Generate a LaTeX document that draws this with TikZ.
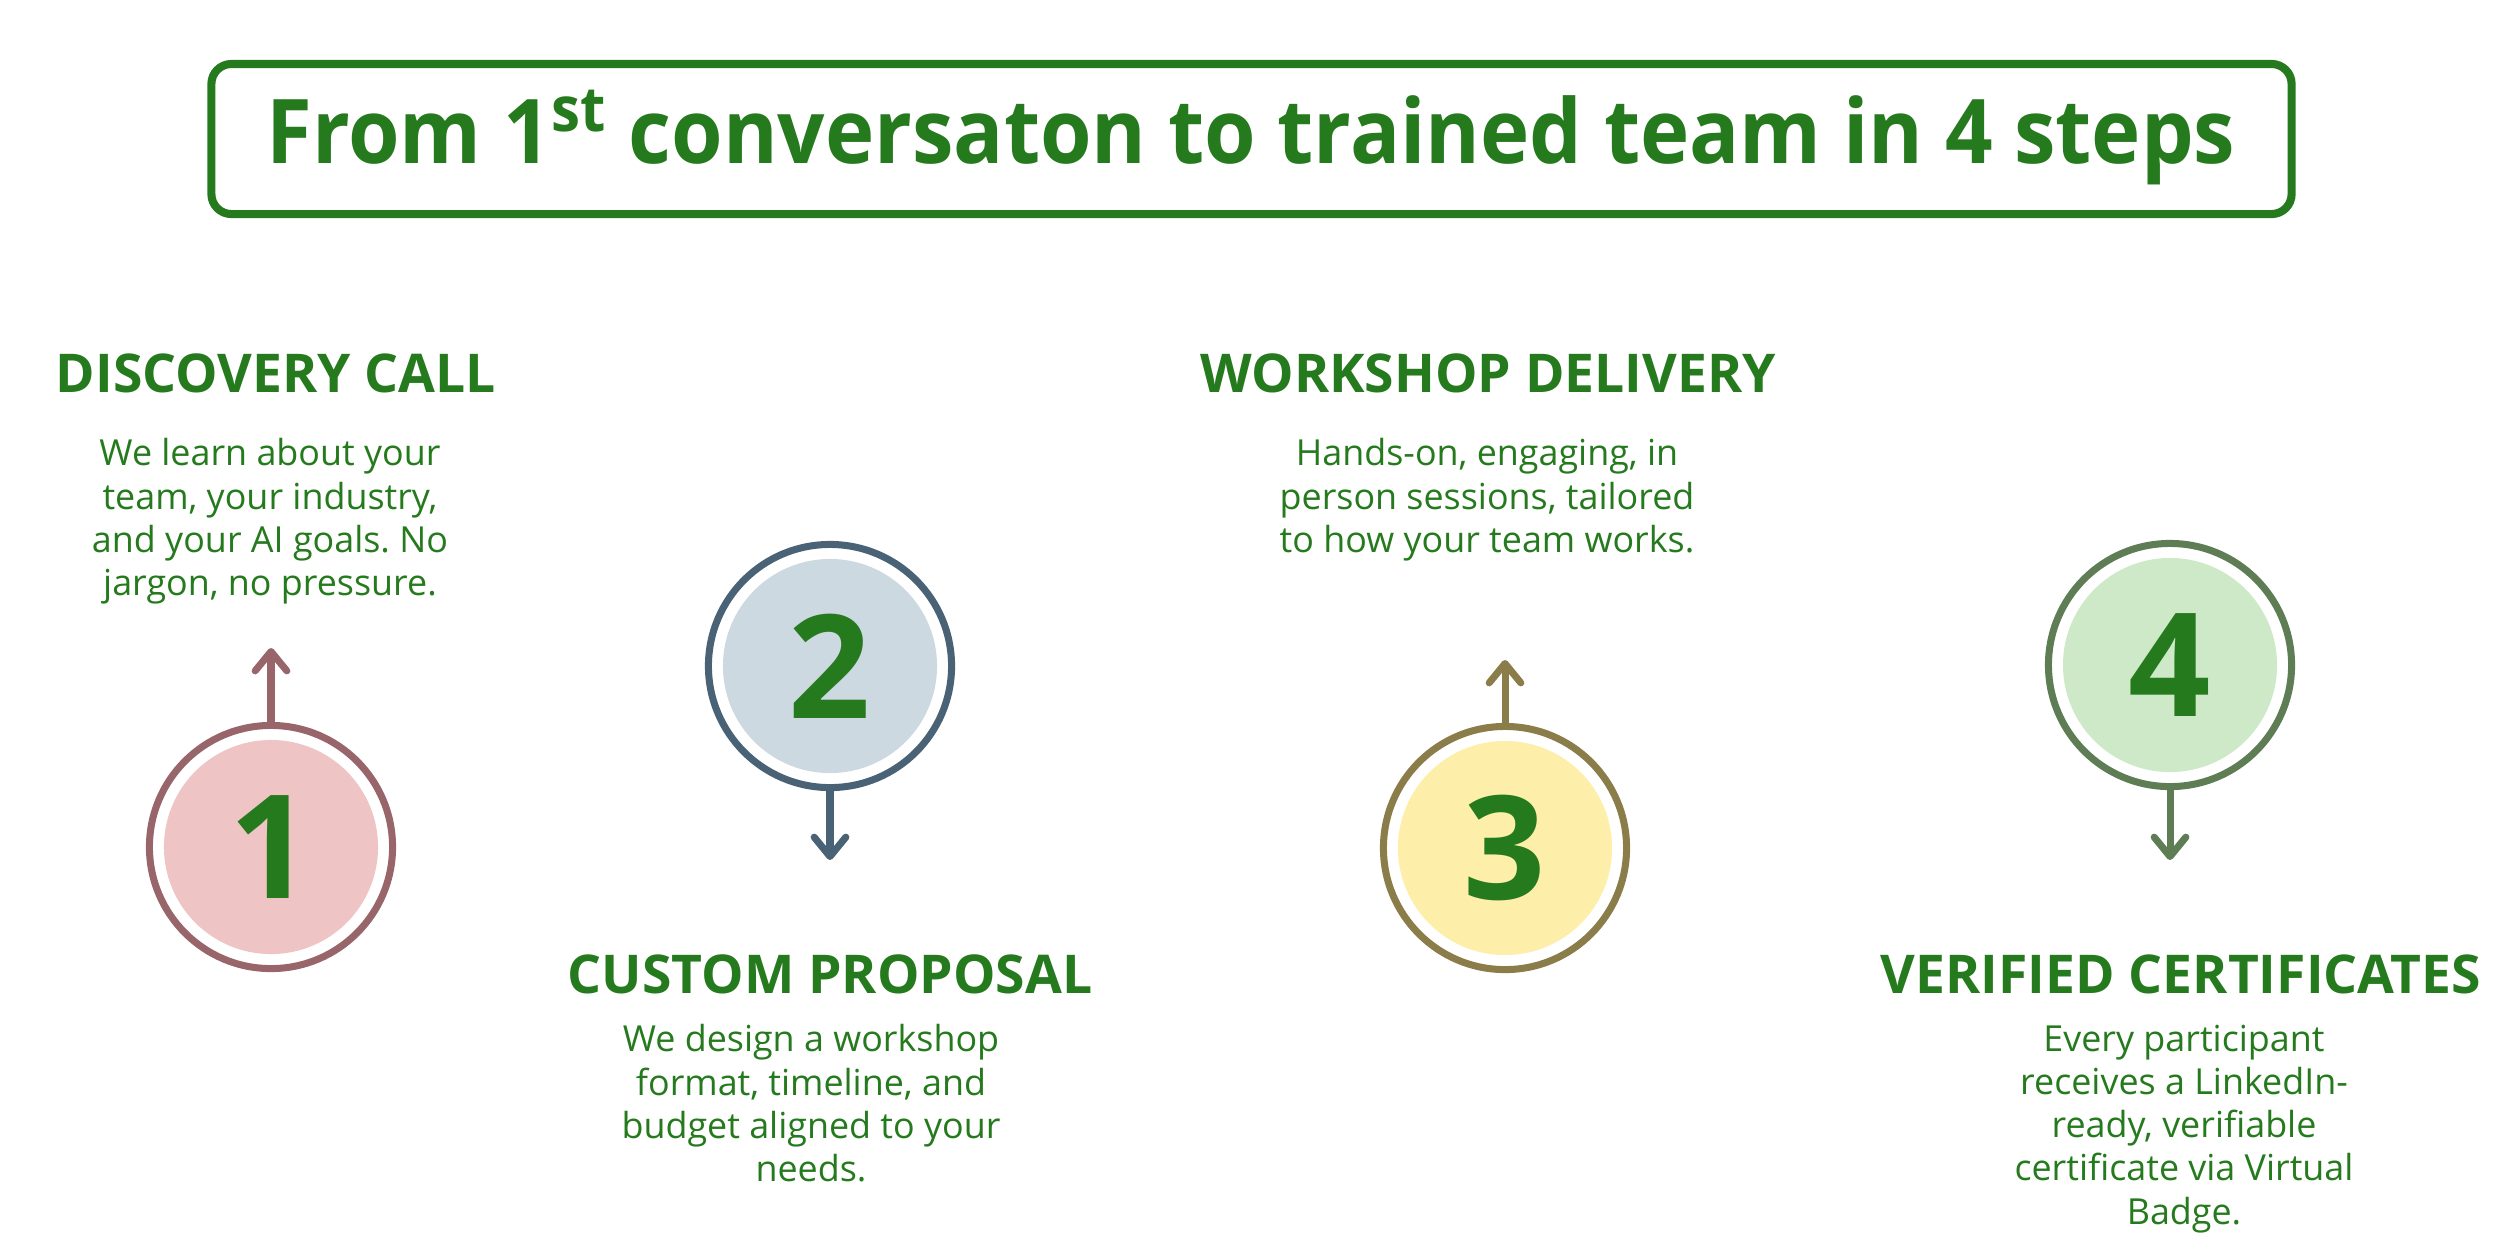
\documentclass[tikz,border=0pt]{standalone}
\usepackage{fontspec}
\setmainfont{Open Sans}
\usetikzlibrary{arrows.meta}
\frenchspacing
\definecolor{tgreen}{HTML}{267A1E}
\definecolor{ringA}{HTML}{98656A}
\definecolor{fillA}{HTML}{EFC4C5}
\definecolor{ringB}{HTML}{4A6275}
\definecolor{fillB}{HTML}{CCD9E1}
\definecolor{ringC}{HTML}{8A7D4A}
\definecolor{fillC}{HTML}{FDEEAA}
\definecolor{ringD}{HTML}{5E7D55}
\definecolor{fillD}{HTML}{CDE9C8}
\tikzset{
  titlebox/.style={draw=tgreen, line width=2.3pt, rounded corners=0.2cm, minimum width=20.79cm, minimum height=1.50cm, inner sep=0pt},
  headtext/.style={text=tgreen, font=\fontsize{15.2}{18}\selectfont\bfseries, inner sep=0pt, anchor=base},
  bodytext/.style={text=tgreen, font=\fontsize{10.2}{12.3}\selectfont, align=center, inner sep=0pt, anchor=north},
  ring/.style={circle, draw=#1, line width=2pt, minimum size=2.43cm, inner sep=0pt},
  disc/.style={circle, fill=#1, minimum size=2.14cm, inner sep=0pt, text=tgreen, font=\fontsize{41}{48}\selectfont\bfseries},
  pointer/.style={draw=#1, line width=2pt, line cap=round, -{Straight Barb[length=5.5pt,width=9pt,line cap=round,line join=round]}}
}
\begin{document}
\begin{tikzpicture}[x=0.01cm,y=-0.01cm]
\useasboundingbox (0,0) rectangle (2500,1250);
% title
\node[titlebox] (tb) at (1251.5,139) {};
\node[text=tgreen, font=\fontsize{25.4}{30}\selectfont\bfseries, inner sep=0pt, anchor=base] (title) at (1251,163) {\scalebox{0.933}[1]{From 1\textsuperscript{st} conversaton to trained team in 4 steps}};
% step 1
\node[headtext] (h1) at (276,392) {DISCOVERY CALL};
\node[bodytext] (b1) at (270,438) {We learn about your\\team, your industry,\\and your AI goals. No\\jargon, no pressure.};
\node[ring=ringA] (o1) at (271,847) {};
\node[disc=fillA] (n1) at (271,847) {1};
\coordinate (t1) at (271,648);
\draw[pointer=ringA] (o1.north) -- (t1);
% step 2
\node[ring=ringB] (o2) at (830,666) {};
\node[disc=fillB] (n2) at (830,666) {2};
\coordinate (t2) at (830,860);
\draw[pointer=ringB] (o2.south) -- (t2);
\node[headtext] (h2) at (830,993) {CUSTOM PROPOSAL};
\node[bodytext] (b2) at (811,1024) {We design a workshop\\format, timeline, and\\budget aligned to your\\needs.};
% step 3
\node[headtext] (h3) at (1488,392) {WORKSHOP DELIVERY};
\node[bodytext] (b3) at (1487,438) {Hands-on, engaging, in\\person sessions, tailored\\to how your team works.};
\node[ring=ringC] (o3) at (1505,848) {};
\node[disc=fillC] (n3) at (1505,848) {3};
\coordinate (t3) at (1505,660);
\draw[pointer=ringC] (o3.north) -- (t3);
% step 4
\node[ring=ringD] (o4) at (2170,665) {};
\node[disc=fillD] (n4) at (2170,665) {4};
\coordinate (t4) at (2170,860);
\draw[pointer=ringD] (o4.south) -- (t4);
\node[headtext] (h4) at (2181,993) {VERIFIED CERTIFICATES};
\node[bodytext] (b4) at (2184,1024) {Every participant\\receives a LinkedIn-\\ready, verifiable\\certificate via Virtual\\Badge.};
\end{tikzpicture}
\end{document}
